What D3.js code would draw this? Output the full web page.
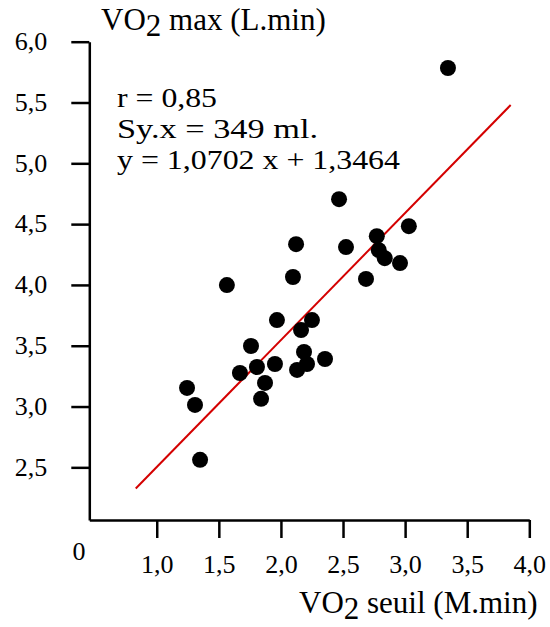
<!DOCTYPE html>
<html>
<head>
<meta charset="utf-8">
<script src="https://cdn.jsdelivr.net/npm/d3@7"></script>
<style>
  html, body { margin: 0; padding: 0; background: #fff; }
  svg { display: block; }
  text { font-family: "Liberation Serif", "Times New Roman", Times, serif; }
</style>
</head>
<body>
<svg id="chart" width="550" height="627"></svg>
<script>
// ---- data ----
const seuil = [3.345, 2.468, 3.030, 2.772, 2.122, 2.524, 2.788, 2.836, 2.959, 2.097, 2.685, 1.565, 1.968, 2.250, 2.162, 1.759, 2.186, 1.952, 1.807, 2.210, 2.355, 2.130, 1.670, 1.872, 1.244, 1.308, 1.840, 1.349];
const vmax  = [5.784, 4.705, 4.483, 4.401, 4.335, 4.311, 4.286, 4.220, 4.180, 4.065, 4.049, 3.999, 3.711, 3.711, 3.629, 3.498, 3.449, 3.350, 3.325, 3.350, 3.391, 3.301, 3.276, 3.194, 3.153, 3.013, 3.063, 2.562];
const lineX = [0.831, 3.850];
const lineY = [2.326, 5.479];
const xTicks = [1.0, 1.5, 2.0, 2.5, 3.0, 3.5, 4.0];
const yTicks = [2.5, 3.0, 3.5, 4.0, 4.5, 5.0, 5.5, 6.0];
const annotations = ["r = 0,85", "Sy.x = 349 ml.", "y = 1,0702 x + 1,3464"];
const xTitle = ["VO", "2", " seuil (M.min)"];
const yTitle = ["VO", "2", " max (L.min)"];

const FONT = "'Liberation Serif', 'Times New Roman', Times, serif";
const svg = d3.select("#chart");
svg.append("rect").attr("width", 550).attr("height", 627).attr("fill", "#fff");

const x = d3.scaleLinear().domain([0.457, 4.0]).range([89.3, 529.3]);
const y = d3.scaleLinear().domain([2.067, 6.0]).range([520, 41.7]);
const fmt = d => d3.format(".1f")(d).replace(".", ",");

const gy = svg.append("g").attr("transform", "translate(89.3,0)")
  .call(d3.axisLeft(y).tickValues(yTicks).tickSize(18).tickSizeOuter(0).tickPadding(24).tickFormat(fmt));
const gx = svg.append("g").attr("transform", "translate(0,520)")
  .call(d3.axisBottom(x).tickValues(xTicks).tickSize(18).tickSizeOuter(0).tickPadding(18).tickFormat(fmt));

[gx, gy].forEach(g => {
  g.attr("font-family", FONT).attr("font-size", 26);
  g.select(".domain").attr("stroke", "#000").attr("stroke-width", 2.5);
  g.selectAll(".tick line").attr("stroke", "#000").attr("stroke-width", 2.5);
  g.selectAll(".tick text").attr("fill", "#000");
});
gx.selectAll(".tick text").attr("y", 53).attr("dy", 0);
gy.selectAll(".tick text").attr("dy", "0.3em");

svg.append("text").attr("x", 79).attr("y", 560).attr("text-anchor", "middle")
  .attr("font-family", FONT).attr("font-size", 26).text("0");

svg.append("line")
  .attr("x1", x(lineX[0])).attr("y1", y(lineY[0]))
  .attr("x2", x(lineX[1])).attr("y2", y(lineY[1]))
  .attr("stroke", "#d40000").attr("stroke-width", 2);

svg.append("g").selectAll("circle").data(seuil.map((d, i) => [d, vmax[i]])).join("circle")
  .attr("cx", d => x(d[0])).attr("cy", d => y(d[1])).attr("r", 8).attr("fill", "#000");

const annY = [107, 138, 169];
const annLen = [100, 201, 283];
annotations.forEach((t, i) => {
  svg.append("text").attr("x", 117).attr("y", annY[i])
    .attr("font-family", FONT).attr("font-size", 27)
    .attr("textLength", annLen[i]).attr("lengthAdjust", "spacingAndGlyphs")
    .attr("fill", "#000").text(t);
});

function title(parts, xPos, yPos) {
  const t = svg.append("text").attr("x", xPos).attr("y", yPos)
    .attr("font-family", FONT).attr("font-size", 31).attr("fill", "#000");
  t.append("tspan").text(parts[0]);
  t.append("tspan").attr("dy", 6).text(parts[1]);
  t.append("tspan").attr("dy", -6).text(parts[2]);
}
title(yTitle, 101, 30);
title(xTitle, 299, 613);
</script>
</body>
</html>
